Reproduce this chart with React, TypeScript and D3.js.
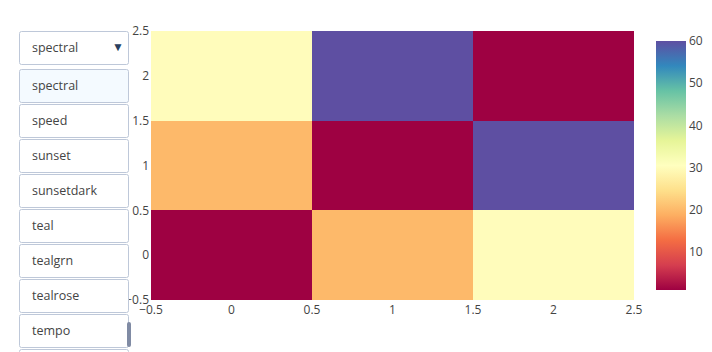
import {useEffect, useRef} from "react";
import * as d3 from "d3";

// heatmap values, rows bottom to top
const xCats = [0, 1, 2];
const yCats = [0, 1, 2];
const zRows = [
    [1, 20, 30],
    [20, 1, 60],
    [30, 60, 1]
];
const xTicks = [-0.5, 0, 0.5, 1, 1.5, 2, 2.5];
const yTicks = [-0.5, 0, 0.5, 1, 1.5, 2, 2.5];
const barTicks = [10, 20, 30, 40, 50, 60];
const spectral = [
    "rgb(158,1,66)", "rgb(213,62,79)", "rgb(244,109,67)", "rgb(253,174,97)",
    "rgb(254,224,139)", "rgb(255,255,191)", "rgb(230,245,152)", "rgb(171,221,164)",
    "rgb(102,194,165)", "rgb(50,136,189)", "rgb(94,79,162)"
];
// visible menu entries (a ninth box peeks out at the bottom, label hidden)
const menuItems = ["spectral", "speed", "sunset", "sunsetdark", "teal", "tealgrn", "tealrose", "tempo"];

const W = 712;
const H = 352;

const App = () => {
    const svgRef = useRef<SVGSVGElement>(null);

    useEffect(() => {
        const svg = d3.select(svgRef.current);
        svg.selectAll("*").remove();
        const font = "'Open Sans', sans-serif";
        const fmt = (d: number) => String(d).replace("-", "\u2212");

        const x = d3.scaleLinear().domain([-0.5, 2.5]).range([151, 634]);
        const y = d3.scaleLinear().domain([-0.5, 2.5]).range([300, 31]);

        const zMin = d3.min(zRows.flat()) as number;
        const zMax = d3.max(zRows.flat()) as number;
        const stops = spectral.map((_, i) => zMin + (zMax - zMin) * i / (spectral.length - 1));
        const color = d3.scaleLinear<string>().domain(stops).range(spectral).interpolate(d3.interpolateRgb);

        // cells
        const cells = zRows.flatMap((row, j) => row.map((v, i) => ({xi: xCats[i], yj: yCats[j], v})));
        svg.append("g").selectAll("rect")
            .data(cells)
            .enter()
            .append("rect")
            .attr("x", d => x(d.xi - 0.5))
            .attr("y", d => y(d.yj + 0.5))
            .attr("width", d => x(d.xi + 0.5) - x(d.xi - 0.5))
            .attr("height", d => y(d.yj - 0.5) - y(d.yj + 0.5))
            .attr("fill", d => color(d.v))
            .attr("shape-rendering", "crispEdges");

        // x tick labels
        svg.append("g").selectAll("text")
            .data(xTicks)
            .enter()
            .append("text")
            .attr("x", d => x(d))
            .attr("y", 314)
            .attr("text-anchor", "middle")
            .attr("font-family", font)
            .attr("font-size", 12)
            .attr("fill", "#444")
            .text(fmt);

        // y tick labels
        svg.append("g").selectAll("text")
            .data(yTicks)
            .enter()
            .append("text")
            .attr("x", 149)
            .attr("y", d => y(d))
            .attr("dy", "0.35em")
            .attr("text-anchor", "end")
            .attr("font-family", font)
            .attr("font-size", 12)
            .attr("fill", "#444")
            .text(fmt);

        // colorbar
        const cb = d3.scaleLinear().domain([zMin, zMax]).range([290, 41]);
        const grad = svg.append("defs").append("linearGradient")
            .attr("id", "cbgrad")
            .attr("x1", 0).attr("x2", 0).attr("y1", 1).attr("y2", 0);
        spectral.forEach((c, i) => {
            grad.append("stop").attr("offset", i / (spectral.length - 1)).attr("stop-color", c);
        });
        svg.append("rect")
            .attr("x", 656)
            .attr("y", cb(zMax))
            .attr("width", 30)
            .attr("height", cb(zMin) - cb(zMax))
            .attr("fill", "url(#cbgrad)");
        svg.append("g").selectAll("text")
            .data(barTicks)
            .enter()
            .append("text")
            .attr("x", 689)
            .attr("y", d => cb(d))
            .attr("dy", "0.35em")
            .attr("font-family", font)
            .attr("font-size", 12)
            .attr("fill", "#444")
            .text(d => d);

        // dropdown menu
        const menu = svg.append("g");
        menu.append("rect")
            .attr("x", 19.5).attr("y", 31.5)
            .attr("width", 109).attr("height", 33)
            .attr("rx", 2)
            .attr("fill", "#fff")
            .attr("stroke", "#BEC8D9");
        menu.append("text")
            .attr("x", 32).attr("y", 48).attr("dy", "0.35em")
            .attr("font-family", font).attr("font-size", 12.5).attr("fill", "#444")
            .text(menuItems[0]);
        menu.append("text")
            .attr("x", 118).attr("y", 47).attr("dy", "0.35em")
            .attr("text-anchor", "middle")
            .attr("font-family", font).attr("font-size", 12).attr("fill", "#2a3f5f")
            .text("\u25BC");

        const boxes = [...menuItems, ""];
        const items = menu.append("g").selectAll("g")
            .data(boxes)
            .enter()
            .append("g")
            .attr("transform", (_, i) => `translate(19.5,${69.5 + i * 35})`);
        items.append("rect")
            .attr("width", 109).attr("height", 33)
            .attr("rx", 2)
            .attr("fill", (_, i) => i === 0 ? "#F4FAFF" : "#fff")
            .attr("stroke", "#BEC8D9");
        items.filter(d => d !== "").append("text")
            .attr("x", 12.5).attr("y", 16.5).attr("dy", "0.35em")
            .attr("font-family", font).attr("font-size", 12.5).attr("fill", "#444")
            .text(d => d);

        // scrollbar
        menu.append("rect")
            .attr("x", 127).attr("y", 322)
            .attr("width", 4).attr("height", 25)
            .attr("rx", 2)
            .attr("fill", "#808BA4");
    }, []);

    return (
        <svg ref={svgRef} width={W} height={H} style={{position: "absolute", left: 0, top: 0, background: "#fff"}} />
    );
};

export default App;
